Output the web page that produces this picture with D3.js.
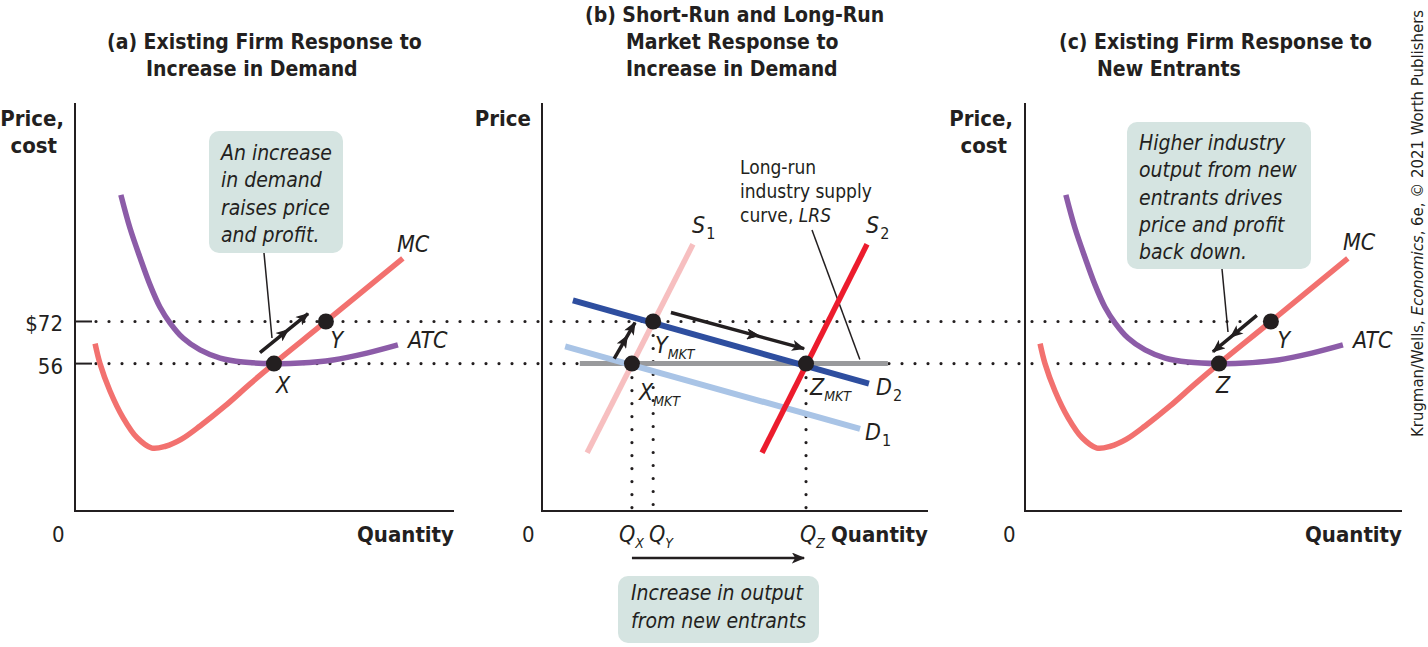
<!DOCTYPE html>
<html>
<head>
<meta charset="utf-8">
<script src="https://cdn.jsdelivr.net/npm/d3@7"></script>
<style>
    body { margin: 0; background: #fff; }
    text { font-family: "DejaVu Sans Condensed", "DejaVu Sans", sans-serif; font-stretch: condensed; fill: #231f20; }
    .it { font-style: italic; }
    .bd { font-weight: bold; }
</style>
</head>
<body>
<svg id="chart" width="1428" height="647"></svg>
<script>
    // price levels marked on the vertical axis
    var priceTicks = [72, 56];
    var priceTickLabels = ['$72', '56'];

    // firm cost curves, [quantity, price] (same firm in panels a and c)
    var mcCurve = [[5.3, 63.6], [6.6, 56], [9.2, 45.7], [12.7, 35.4], [16.4, 27.8], [20.3, 23.9],
        [23.9, 24.6], [28, 27.2], [33, 32.3], [39.6, 39.9], [46.2, 48.3], [52.5, 56], [66.2, 72], [86.5, 96]];
    var atcCurve = [[12.1, 120.1], [14.5, 107.5], [17.2, 96.1], [19.8, 85.9], [22.4, 77.5], [25.1, 71.4],
        [28.5, 65.7], [33, 61.2], [38.3, 58.1], [44.3, 56.6], [52.5, 56], [59.4, 56.2], [68.1, 57.4],
        [77, 60], [85.2, 63.1]];
    var firmPointsA = [{ name: 'X', q: 52.5, p: 56 }, { name: 'Y', q: 66.2, p: 72 }];
    var firmPointsC = [{ name: 'Z', q: 52.5, p: 56 }, { name: 'Y', q: 66.2, p: 72 }];

    // market curves in panel b, [quantity, price]
    var s1Line = [[11.7, 22.1], [39.1, 101.3]];
    var s2Line = [[57, 22.1], [84.2, 101.3]];
    var d1Line = [[6, 62.5], [82.4, 31.2]];
    var d2Line = [[8, 80], [84.7, 48.4]];
    var lrsLine = [[9.8, 56], [89.6, 56]];
    var marketPoints = [{ name: 'X', q: 23.3, p: 56 }, { name: 'Y', q: 28.8, p: 72 }, { name: 'Z', q: 68.4, p: 56 }];

    // movement arrows, [start, end]
    var arrowA = [[48.8, 60.2], [61.5, 75]];
    var arrowC = [[62.5, 74.3], [50.9, 60.5]];
    var arrowShort = [[18.7, 57.9], [24.1, 71.6]];
    var arrowLong = [[33.4, 75.4], [67.9, 61.7]];

    var titles = [
        { x: 107, lines: [['(a) Existing Firm Response to', 0], ['Increase in Demand', 39]], top: 49 },
        { x: 585, lines: [['(b) Short-Run and Long-Run', 0], ['Market Response to', 41], ['Increase in Demand', 41]], top: 22 },
        { x: 1059, lines: [['(c) Existing Firm Response to', 0], ['New Entrants', 38]], top: 49 }
    ];
    var noteA = ['An increase', 'in demand', 'raises price', 'and profit.'];
    var noteC = ['Higher industry', 'output from new', 'entrants drives', 'price and profit', 'back down.'];
    var noteB = ['Increase in output', 'from new entrants'];
    var lrsNote = ['Long-run', 'industry supply'];

    var svg = d3.select('#chart');
    var ink = '#231f20';

    var y = d3.scaleLinear().domain([0, 155]).range([511, 103]);
    var xA = d3.scaleLinear().domain([0, 100]).range([75, 454]);
    var xB = d3.scaleLinear().domain([0, 100]).range([542, 928]);
    var xC = d3.scaleLinear().domain([0, 100]).range([1020, 1399]);

    var defs = svg.append('defs');
    function marker(id, refX) {
        defs.append('marker')
            .attr('id', id)
            .attr('viewBox', '0 -5 12 10')
            .attr('refX', refX).attr('refY', 0)
            .attr('markerUnits', 'userSpaceOnUse')
            .attr('markerWidth', 14).attr('markerHeight', 11)
            .attr('orient', 'auto')
            .append('path')
            .attr('d', 'M0,-5L12,0L0,5L3,0Z')
            .attr('fill', ink);
    }
    marker('headEnd', 11);
    marker('headMid', 6);

    // dotted guide lines
    var dotted = svg.append('g')
        .attr('stroke', ink).attr('stroke-width', 3.2)
        .attr('stroke-linecap', 'round').attr('stroke-dasharray', '0,13');
    dotted.append('line').attr('x1', 96).attr('x2', 1245).attr('y1', y(72)).attr('y2', y(72));
    dotted.append('line').attr('x1', 96).attr('x2', 1198).attr('y1', y(56)).attr('y2', y(56));
    dotted.selectAll('line.v')
        .data(marketPoints)
        .enter().append('line')
        .attr('class', 'v')
        .attr('x1', function (d) { return xB(d.q); })
        .attr('x2', function (d) { return xB(d.q); })
        .attr('y1', function (d) { return y(d.p) + 14; })
        .attr('y2', 508);

    // axes
    [[75, 454], [542, 928], [1025, 1402]].forEach(function (a) {
        svg.append('path')
            .attr('d', 'M' + a[0] + ',103V' + y(0) + 'H' + a[1])
            .attr('fill', 'none').attr('stroke', ink).attr('stroke-width', 2);
    });
    priceTicks.forEach(function (p, i) {
        svg.append('line').attr('x1', 75).attr('x2', 92).attr('y1', y(p)).attr('y2', y(p))
            .attr('stroke', ink).attr('stroke-width', 2);
        svg.append('text').attr('x', 63).attr('y', y(p) + 10).attr('text-anchor', 'end')
            .style('font-size', '22px').text(priceTickLabels[i]);
    });

    // axis labels
    [52, 522, 1003].forEach(function (x) {
        svg.append('text').attr('x', x).attr('y', 542).style('font-size', '22px').text('0');
    });
    [454, 928, 1402].forEach(function (x) {
        svg.append('text').attr('x', x).attr('y', 542).attr('text-anchor', 'end')
            .attr('class', 'bd').style('font-size', '22px').text('Quantity');
    });
    [[64, 'Price,', 126], [57, 'cost', 153], [531, 'Price', 126], [1013, 'Price,', 126], [1007, 'cost', 153]]
        .forEach(function (d) {
            svg.append('text').attr('x', d[0]).attr('y', d[2]).attr('text-anchor', 'end').attr('class', 'bd')
                .style('font-size', '22px').text(d[1]);
        });

    // titles
    titles.forEach(function (t) {
        var tx = svg.append('text').attr('x', t.x).attr('y', t.top).attr('class', 'bd').style('font-size', '21px');
        t.lines.forEach(function (l, i) {
            tx.append('tspan').attr('x', t.x + l[1]).attr('dy', i ? 27 : 0).text(l[0]);
        });
    });

    // callout boxes
    function note(x, y0, w, h, lines, tx, ty, step) {
        svg.append('rect').attr('x', x).attr('y', y0).attr('width', w).attr('height', h)
            .attr('rx', 10).attr('fill', '#d5e4e1');
        var t = svg.append('text').attr('class', 'it').style('font-size', '21px');
        lines.forEach(function (l, i) {
            t.append('tspan').attr('x', tx).attr('y', ty + i * step).text(l);
        });
    }
    note(209, 131, 134, 122, noteA, 221, 160, 27.3);
    note(1127, 122, 184, 147, noteC, 1139, 150, 27.3);
    note(618, 576, 201, 67, noteB, 631, 600, 28);

    // leader lines
    var leaders = svg.append('g').attr('stroke', ink).attr('stroke-width', 1.5);
    leaders.append('line').attr('x1', 264).attr('y1', 253).attr('x2', 272).attr('y2', 338);
    leaders.append('line').attr('x1', 1222).attr('y1', 269).attr('x2', 1228).attr('y2', 332);
    leaders.append('line').attr('x1', 812).attr('y1', 230).attr('x2', xB(lrsLine[1][0]) - 28).attr('y2', y(56) - 4);

    // curves
    function drawCurve(xs, data, color, width, curved) {
        var gen = d3.line()
            .x(function (d) { return xs(d[0]); })
            .y(function (d) { return y(d[1]); });
        if (curved) gen.curve(d3.curveCatmullRom.alpha(0.5));
        svg.append('path').attr('d', gen(data)).attr('fill', 'none')
            .attr('stroke', color).attr('stroke-width', width).attr('stroke-linecap', 'butt');
    }
    drawCurve(xB, lrsLine, '#999a9c', 5, false);
    drawCurve(xB, d1Line, '#a9c4e6', 6, false);
    drawCurve(xB, s1Line, '#f7bfc0', 5.5, false);
    drawCurve(xB, d2Line, '#2e4e9f', 6, false);
    drawCurve(xB, s2Line, '#ec1c2d', 5.5, false);
    [xA, xC].forEach(function (xs) {
        drawCurve(xs, atcCurve, '#8c5ca8', 5.5, true);
        drawCurve(xs, mcCurve, '#f2716f', 5.5, true);
    });

    // arrows with heads along the way
    function arrow(xs, pts, mids) {
        var a = [xs(pts[0][0]), y(pts[0][1])];
        var b = [xs(pts[1][0]), y(pts[1][1])];
        var ip = d3.interpolate(a, b);
        var path = [a];
        mids.forEach(function (t) { path.push(ip(t)); });
        path.push(b);
        svg.append('path').attr('d', d3.line()(path)).attr('fill', 'none')
            .attr('stroke', ink).attr('stroke-width', 3.5)
            .attr('marker-mid', 'url(#headMid)').attr('marker-end', 'url(#headEnd)');
    }
    arrow(xA, arrowA, [0.5]);
    arrow(xC, arrowC, [0.5]);
    arrow(xB, arrowShort, [0.5]);
    arrow(xB, arrowLong, [0.33, 0.62]);

    // output arrow below panel b
    svg.append('line')
        .attr('x1', xB(marketPoints[0].q)).attr('x2', xB(marketPoints[2].q) - 2)
        .attr('y1', 558).attr('y2', 558)
        .attr('stroke', ink).attr('stroke-width', 2.5)
        .attr('marker-end', 'url(#headEnd)');

    // points
    function drawPoints(xs, pts) {
        svg.selectAll(null).data(pts).enter().append('circle')
            .attr('cx', function (d) { return xs(d.q); })
            .attr('cy', function (d) { return y(d.p); })
            .attr('r', 8).attr('fill', ink);
    }
    drawPoints(xA, firmPointsA);
    drawPoints(xB, marketPoints);
    drawPoints(xC, firmPointsC);

    // curve and point labels
    function label(x, yy, main, sub, anchor, subSize, subUpright) {
        var t = svg.append('text').attr('x', x).attr('y', yy).attr('class', 'it')
            .attr('text-anchor', anchor || 'start').style('font-size', '23px');
        t.append('tspan').text(main);
        if (sub) {
            var s = t.append('tspan').attr('dy', 6).style('font-size', (subSize || 15) + 'px').text(sub);
            if (subUpright) s.style('font-style', 'normal').attr('dx', 1);
        }
        return t;
    }
    label(397, 252, 'MC');
    label(408, 348, 'ATC');
    label(xA(firmPointsA[0].q) + 9, y(56) + 29, 'X', null, 'middle');
    label(xA(firmPointsA[1].q) + 11, y(72) + 27, 'Y', null, 'middle');
    label(1343, 250, 'MC');
    label(1353, 348, 'ATC');
    label(xC(firmPointsC[1].q) + 13, y(72) + 27, 'Y', null, 'middle');
    label(xC(firmPointsC[0].q) + 4, y(56) + 29, 'Z', null, 'middle');

    label(692, 233, 'S', '1', 'start', 16, true);
    label(866, 233, 'S', '2', 'start', 16, true);
    label(876, 395, 'D', '2', 'start', 16, true);
    label(865, 440, 'D', '1', 'start', 16, true);
    label(655, 353, 'Y', 'MKT', 'start', 14);
    label(639, 400, 'X', 'MKT', 'start', 14);
    label(810, 395, 'Z', 'MKT', 'start', 14);
    label(619, 542, 'Q', 'X', 'start', 14);
    label(649, 542, 'Q', 'Y', 'start', 14);
    label(800, 542, 'Q', 'Z', 'start', 14);

    var lrsText = svg.append('text').style('font-size', '19px');
    lrsNote.forEach(function (l, i) {
        lrsText.append('tspan').attr('x', 740).attr('y', 174 + i * 24).text(l);
    });
    var last = lrsText.append('tspan').attr('x', 740).attr('y', 222);
    last.append('tspan').text('curve, ');
    last.append('tspan').style('font-style', 'italic').text('LRS');

    // credit line
    var credit = svg.append('text')
        .attr('transform', 'translate(1423,437) rotate(-90)')
        .style('font-size', '16.6px');
    credit.append('tspan').text('Krugman/Wells, ');
    credit.append('tspan').style('font-style', 'italic').text('Economics');
    credit.append('tspan').text(', 6e, \u00a9 2021 Worth Publishers');
</script>
</body>
</html>
